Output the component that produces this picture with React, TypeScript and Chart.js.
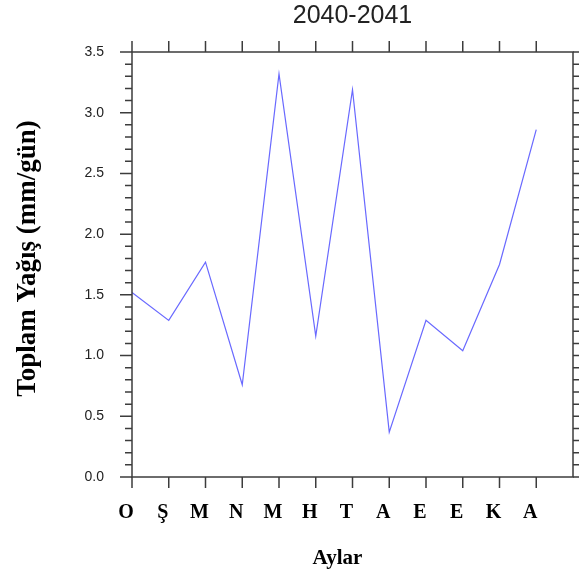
import React, { useEffect, useRef } from "react";
import { Chart, registerables } from "chart.js";

Chart.register(...registerables);

const titleText = "2040-2041";
const months = ["O", "Ş", "M", "N", "M", "H", "T", "A", "E", "E", "K", "A"];
const precip = [1.52, 1.29, 1.77, 0.76, 3.32, 1.16, 3.19, 0.37, 1.29, 1.04, 1.75, 2.86];
const yMin = 0;
const yMax = 3.5;
const yStep = 0.5;
const yMinorStep = 0.1;
const xTitle = "Aylar";
const yTitle = "Toplam Yağış (mm/gün)";

const framePlugin = {
  id: "ncarFrame",
  afterDraw(chart: any) {
    const { ctx, chartArea, scales } = chart;
    const { left, right, top, bottom } = chartArea;
    const xs = scales.x;
    const ys = scales.y;
    const cx = (left + right) / 2;
    const cy = (top + bottom) / 2;
    ctx.save();
    // main title centred over the plot
    ctx.fillStyle = "#222";
    ctx.font = "25px 'Liberation Sans'";
    ctx.textAlign = "center";
    ctx.textBaseline = "middle";
    ctx.fillText(titleText, cx, 16);

    // axis titles
    ctx.fillStyle = "#000";
    ctx.font = "bold 21px 'Liberation Serif'";
    ctx.fillText(xTitle, cx - 15, 559);
    ctx.save();
    ctx.translate(28, cy - 6);
    ctx.rotate(-Math.PI / 2);
    ctx.font = "bold 27px 'Liberation Serif'";
    ctx.fillText(yTitle, 0, 0);
    ctx.restore();

    // frame and ticks
    ctx.strokeStyle = "#3c3c3c";
    ctx.lineWidth = 1.5;
    ctx.strokeRect(left, top, right - left, bottom - top);
    ctx.beginPath();
    months.forEach((_, i) => {
      const px = xs.getPixelForValue(i);
      ctx.moveTo(px, top - 11);
      ctx.lineTo(px, top);
      ctx.moveTo(px, bottom);
      ctx.lineTo(px, bottom + 11);
    });
    const n = Math.round((yMax - yMin) / yMinorStep);
    const perMajor = Math.round(yStep / yMinorStep);
    for (let k = 0; k <= n; k++) {
      const val = yMin + k * yMinorStep;
      const py = ys.getPixelForValue(val);
      const len = k % perMajor === 0 ? 12 : 7;
      ctx.moveTo(left - len, py);
      ctx.lineTo(left, py);
      ctx.moveTo(right, py);
      ctx.lineTo(right + len, py);
    }
    ctx.stroke();
    ctx.restore();
  },
};

export default function App() {
  const ref = useRef<HTMLCanvasElement | null>(null);
  useEffect(() => {
    document.body.style.margin = "0";
    const canvas = ref.current;
    if (!canvas) return;
    const chart = new Chart(canvas, {
      type: "line",
      data: {
        datasets: [
          {
            data: precip.map((v, i) => ({ x: i, y: v })),
            borderColor: "rgb(105,105,255)",
            borderWidth: 1.2,
            pointRadius: 0,
            tension: 0,
            fill: false,
          },
        ],
      },
      options: {
        responsive: false,
        animation: false,
        devicePixelRatio: 1,
        layout: { padding: { top: 52, right: 6, left: 0, bottom: 0 } },
        plugins: {
          legend: { display: false },
          tooltip: { enabled: false },
          title: { display: false },
        },
        scales: {
          x: {
            type: "linear",
            min: 0,
            max: months.length,
            afterFit: (s: any) => {
              s.height = 104;
              s.paddingLeft = 0;
              s.paddingRight = 0;
            },
            grid: { display: false, drawTicks: false },
            border: { display: false },
            ticks: {
              stepSize: 1,
              autoSkip: false,
              maxRotation: 0,
              padding: 24,
              labelOffset: -6,
              color: "#000",
              font: { family: "Liberation Serif", size: 20, weight: "bold" },
              callback: (v: any) => months[v as number] ?? "",
            },
            title: { display: false },
          },
          y: {
            type: "linear",
            min: yMin,
            max: yMax,
            afterFit: (s: any) => {
              s.width = 132;
              s.paddingTop = 0;
              s.paddingBottom = 0;
            },
            grid: { display: false, drawTicks: false },
            border: { display: false },
            ticks: {
              stepSize: yStep,
              padding: 28,
              color: "#222",
              font: { family: "Liberation Sans", size: 14 },
              callback: (v: any) => Number(v).toFixed(1),
            },
            title: { display: false },
          },
        },
      },
      plugins: [framePlugin],
    });
    return () => chart.destroy();
  }, []);
  return <canvas ref={ref} width={579} height={581} style={{ display: "block" }} />;
}
